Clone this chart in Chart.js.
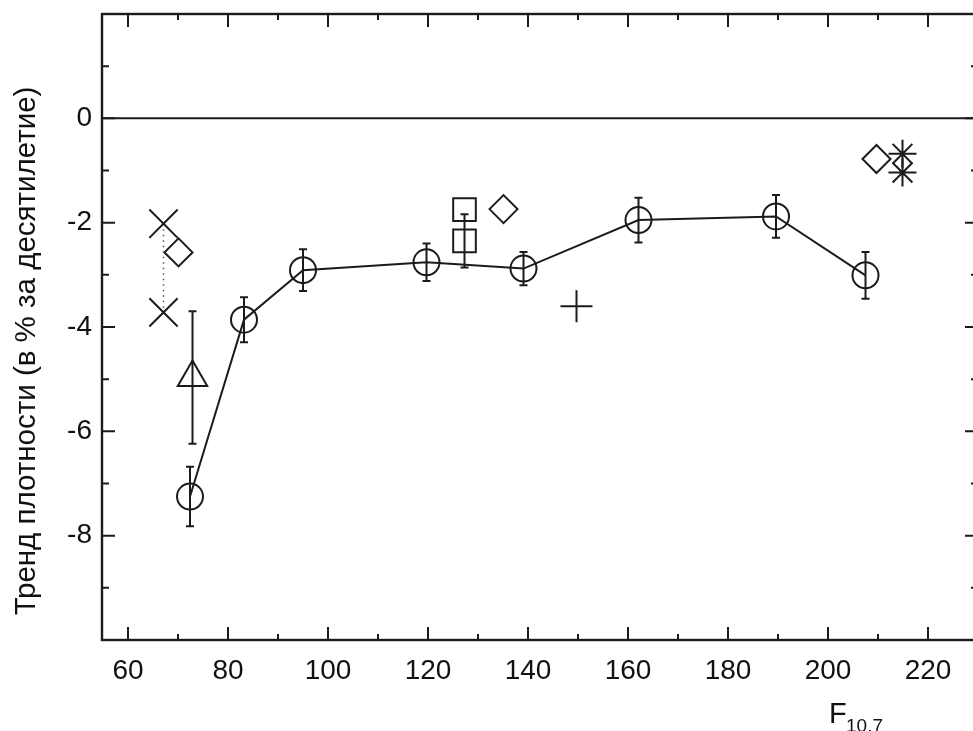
<!DOCTYPE html>
<html>
<head>
<meta charset="utf-8">
<script src="https://cdn.jsdelivr.net/npm/chart.js@4.4.1/dist/chart.umd.min.js"></script>
<style>
  html, body { margin: 0; padding: 0; background: #fff; overflow: hidden; }
  #wrap { width: 980px; height: 731px; }
</style>
</head>
<body>
<div id="wrap"><canvas id="trendChart" width="980" height="731"></canvas></div>
<script>
// main series: density trend vs F10.7 (circles joined by a line)
const circleF = [72.4, 83.2, 95.0, 119.7, 139.1, 162.1, 189.6, 207.5];
const circleTrend = [-7.25, -3.86, -2.91, -2.76, -2.88, -1.95, -1.88, -3.01];
const circleErr = [0.57, 0.43, 0.40, 0.36, 0.32, 0.43, 0.41, 0.45];

// other studies
const crossF = [67.1, 67.1];
const crossTrend = [-2.02, -3.72];
const diamondF = [70.1, 135.1, 209.7];
const diamondTrend = [-2.57, -1.74, -0.78];
const squareF = [127.3, 127.3];
const squareTrend = [-1.75, -2.35];
const squareErr = [0, 0.51];
const triangleF = [72.9];
const triangleTrend = [-4.97];
const triangleErr = [1.27];
const plusF = [149.7];
const plusTrend = [-3.60];
const starF = [214.9, 214.9];
const starTrend = [-0.68, -1.04];

// axes
const xTickLabels = [60, 80, 100, 120, 140, 160, 180, 200, 220];
const xMinorTicks = [70, 90, 110, 130, 150, 170, 190, 210];
const yTickLabels = [0, -2, -4, -6, -8];
const yMajorTicks = [2, 0, -2, -4, -6, -8, -10];
const yMinorTicks = [1, -1, -3, -5, -7, -9];

const INK = "#1b1b1b";
const FONT = "'Liberation Sans', Arial, sans-serif";
Chart.defaults.font.family = FONT;
Chart.defaults.color = "#111";

function pts(xs, ys) {
    return xs.map((f, i) => ({ x: f, y: ys[i] }));
}

function markerSet(xs, ys, style, radius, extra) {
    return Object.assign({
        data: pts(xs, ys),
        showLine: false,
        pointStyle: style,
        pointRadius: radius,
        pointHoverRadius: radius,
        pointBorderColor: INK,
        pointBackgroundColor: "rgba(0,0,0,0)",
        pointBorderWidth: 2,
        clip: false
    }, extra || {});
}

const errorSets = [
    { f: circleF, v: circleTrend, err: circleErr },
    { f: squareF, v: squareTrend, err: squareErr },
    { f: triangleF, v: triangleTrend, err: triangleErr }
];

// no label overflow padding, the frame is placed by hand
function noPad(s) {
    s.paddingTop = 0; s.paddingBottom = 0;
    s.paddingLeft = 0; s.paddingRight = 0;
}

// frame, inward ticks, zero line, error bars and axis titles
const framePlugin = {
    id: "frame",
    afterDatasetsDraw(chart) {
        const { ctx, chartArea: a, scales: { x, y } } = chart;
        ctx.save();
        ctx.strokeStyle = INK;
        ctx.lineWidth = 2;

        errorSets.forEach(s => {
            s.f.forEach((f, i) => {
                const e = s.err[i];
                if (!e) return;
                const px = x.getPixelForValue(f);
                const y1 = y.getPixelForValue(s.v[i] + e);
                const y2 = y.getPixelForValue(s.v[i] - e);
                ctx.beginPath();
                ctx.moveTo(px, y1); ctx.lineTo(px, y2);
                ctx.moveTo(px - 4, y1); ctx.lineTo(px + 4, y1);
                ctx.moveTo(px - 4, y2); ctx.lineTo(px + 4, y2);
                ctx.stroke();
            });
        });

        // zero line
        const y0 = y.getPixelForValue(0);
        ctx.beginPath();
        ctx.moveTo(a.left, y0); ctx.lineTo(a.right, y0);
        ctx.stroke();

        ctx.lineWidth = 2.4;
        ctx.strokeRect(a.left, a.top, a.right - a.left, a.bottom - a.top);

        ctx.lineWidth = 2;
        const tick = (vals, len, isX) => {
            vals.forEach(v => {
                ctx.beginPath();
                if (isX) {
                    const px = x.getPixelForValue(v);
                    ctx.moveTo(px, a.bottom); ctx.lineTo(px, a.bottom - len);
                    ctx.moveTo(px, a.top); ctx.lineTo(px, a.top + len);
                } else {
                    const py = y.getPixelForValue(v);
                    ctx.moveTo(a.left, py); ctx.lineTo(a.left + len, py);
                    ctx.moveTo(a.right, py); ctx.lineTo(a.right - len, py);
                }
                ctx.stroke();
            });
        };
        tick(xTickLabels, 13, true);
        tick(xMinorTicks, 6, true);
        tick(yMajorTicks, 13, false);
        tick(yMinorTicks, 7, false);

        // y title
        ctx.fillStyle = "#111";
        ctx.save();
        ctx.translate(27, 351);
        ctx.rotate(-Math.PI / 2);
        ctx.font = "29.5px " + FONT;
        ctx.textAlign = "center";
        ctx.textBaseline = "middle";
        ctx.fillText("Тренд плотности (в % за десятилетие)", 0, 0);
        ctx.restore();

        // x title F with subscript 10.7
        ctx.textAlign = "left";
        ctx.textBaseline = "alphabetic";
        ctx.font = "29px " + FONT;
        ctx.fillText("F", 829, 723);
        ctx.font = "19px " + FONT;
        ctx.fillText("10.7", 846, 732);
        ctx.restore();
    }
};

new Chart(document.getElementById("trendChart"), {
    type: "scatter",
    data: {
        datasets: [
            markerSet(circleF, circleTrend, "circle", 13, {
                showLine: true, borderColor: INK, borderWidth: 2
            }),
            markerSet(crossF, crossTrend, "crossRot", 20, {
                showLine: true, borderColor: "#555", borderWidth: 1.5, borderDash: [1.5, 4]
            }),
            markerSet(diamondF, diamondTrend, "rectRot", 14),
            markerSet(squareF, squareTrend, "rect", 16),
            markerSet(triangleF, triangleTrend, "triangle", 17),
            markerSet(plusF, plusTrend, "cross", 16),
            markerSet(starF, starTrend, "star", 14)
        ]
    },
    options: {
        responsive: false,
        animation: false,
        layout: { autoPadding: false, padding: { top: 14, right: 2, left: 0, bottom: 0 } },
        plugins: {
            legend: { display: false },
            tooltip: { enabled: false }
        },
        scales: {
            x: {
                type: "linear",
                min: 54.8,
                max: 230,
                grid: { display: false, drawTicks: false },
                border: { display: false },
                afterBuildTicks: s => { s.ticks = xTickLabels.map(v => ({ value: v })); },
                afterFit: s => { s.height = 91; noPad(s); },
                ticks: { padding: 14, maxRotation: 0, font: { size: 28 }, color: "#111" }
            },
            y: {
                min: -10,
                max: 2,
                grid: { display: false, drawTicks: false },
                border: { display: false },
                afterBuildTicks: s => { s.ticks = yTickLabels.map(v => ({ value: v })); },
                afterFit: s => { s.width = 102; noPad(s); },
                ticks: { padding: 10, font: { size: 28 }, color: "#111" }
            }
        }
    },
    plugins: [framePlugin]
});
</script>
</body>
</html>
